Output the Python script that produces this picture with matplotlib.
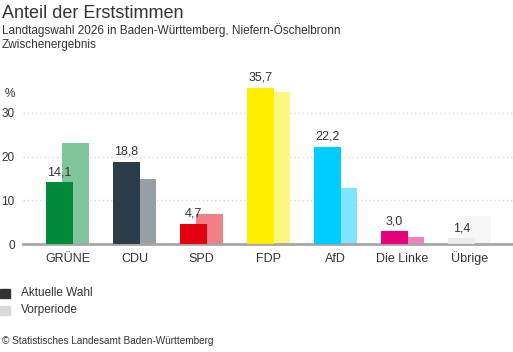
import numpy as np
import matplotlib.pyplot as plt
from matplotlib.patches import Rectangle

plt.rcParams['font.family'] = ['Liberation Sans', 'DejaVu Sans']

parteien = ['GRÜNE', 'CDU', 'SPD', 'FDP', 'AfD', 'Die Linke', 'Übrige']
aktuell = [14.1, 18.8, 4.7, 35.7, 22.2, 3.0, 1.4]
vorperiode = [23.2, 14.8, 6.8, 34.8, 12.8, 1.7, 6.4]
farben_akt = ['#008a3a', '#2d3c4b', '#e3000f', '#ffed00', '#00ccff', '#e6007e', '#ebebeb']
farben_vor = ['#80c59c', '#979ea5', '#f17f87', '#fff67f', '#80e6ff', '#f280bf', '#f5f5f5']

fig = plt.figure(figsize=(5.13, 3.52), dpi=100)
ax = fig.add_axes([23 / 513, 107.7 / 352, 490 / 513, 164.5 / 352])

x = np.arange(len(parteien))
w = 27 / 67
off = 8 / 67

ax.bar(x + off, vorperiode, w, color=farben_vor, zorder=2)
ax.bar(x - off, aktuell, w, color=farben_akt, zorder=3)

for xi, v in zip(x, aktuell):
    ax.text(xi - off, v + 0.9, format(v, '.1f').replace('.', ','),
            ha='center', va='bottom', fontsize=9, color='#333333')

ax.set_xlim(-0.664, 6.65)
ax.set_ylim(0, 37.5)
ax.set_yticks([0, 10, 20, 30])
ax.yaxis.grid(True, linestyle=(0, (1, 2)), color='#d8d8d8', linewidth=1)
ax.set_axisbelow(True)
for s in ('top', 'right', 'left'):
    ax.spines[s].set_visible(False)
ax.spines['bottom'].set_color('#a6a6a6')
ax.spines['bottom'].set_linewidth(2)
ax.set_xticks(x)
ax.set_xticklabels(parteien)
ax.tick_params(axis='x', length=0, pad=13, labelsize=9, labelcolor='#333333')
ax.tick_params(axis='y', length=0, pad=6, labelsize=8.5, labelcolor='#333333')
for lab in ax.get_xticklabels():
    lab.set_verticalalignment('baseline')

fig.text(5 / 513, 1 - 94 / 352, '%', fontsize=8.5, color='#333333', va='center')

fig.text(2 / 513, 1 - 13 / 352, 'Anteil der Erststimmen', fontsize=13, color='#333333', va='center')
fig.text(2 / 513, 1 - 30 / 352, 'Landtagswahl 2026 in Baden-Württemberg, Niefern-Öschelbronn',
         fontsize=8.5, color='#333333', va='center')
fig.text(2 / 513, 1 - 45 / 352, 'Zwischenergebnis', fontsize=8.5, color='#333333', va='center')

fig.patches.append(Rectangle((0, 1 - 298 / 352), 10 / 513, 9 / 352, transform=fig.transFigure,
                             color='#333333', figure=fig))
fig.patches.append(Rectangle((0, 1 - 315 / 352), 10 / 513, 9 / 352, transform=fig.transFigure,
                             color='#d9d9d9', figure=fig))
fig.text(21 / 513, 1 - 293 / 352, 'Aktuelle Wahl', fontsize=8.5, color='#333333', va='center')
fig.text(21 / 513, 1 - 310 / 352, 'Vorperiode', fontsize=8.5, color='#333333', va='center')

fig.text(2 / 513, 1 - 341 / 352, '© Statistisches Landesamt Baden-Württemberg',
         fontsize=7.2, color='#333333', va='center')

fig.savefig('out.png', dpi=100)
